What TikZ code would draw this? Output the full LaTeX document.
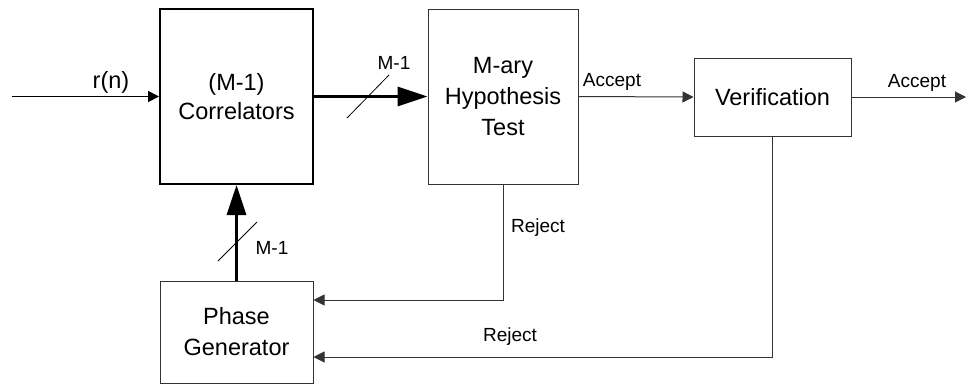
\documentclass[tikz,border=0pt]{standalone}
\usepackage{fontspec}
\setmainfont{Liberation Sans}
\usetikzlibrary{arrows.meta}

\tikzset{
  bigtext/.style={font=\fontsize{23.5}{31}\selectfont},
  smalltext/.style={font=\fontsize{19}{23}\selectfont},
  block/.style={draw=black!80, line width=1pt, rectangle, align=center, inner sep=0pt, bigtext},
  thinlink/.style={draw=black!80, line width=1pt, -{Triangle[length=11pt,width=11pt]}},
  buslink/.style={draw=black, line width=3.2pt, -{Triangle[length=30pt,width=19pt]}},
  busmark/.style={draw=black, line width=0.8pt},
}

\begin{document}
\begin{tikzpicture}[x=1pt,y=-1pt]
  \useasboundingbox (0,0) rectangle (968,386);

  % processing blocks
  \node[block, line width=2pt, draw=black, minimum width=153pt, minimum height=175pt,
        font=\fontsize{23.5}{29.5}\selectfont] (corr) at (236.5,96.5) {(M-1)\\Correlators};
  \node[block, minimum width=150pt, minimum height=175pt] (hyp) at (503,96.5) {M-ary\\Hypothesis\\Test};
  \node[block, minimum width=157pt, minimum height=78pt] (ver) at (772.5,97) {Verification};
  \node[block, minimum width=153pt, minimum height=102pt] (phase) at (236.5,332) {Phase\\Generator};

  % free ends and corners of the feedback paths
  \coordinate (in) at (12,96.5);
  \coordinate (out) at (966,97);
  \coordinate (rj1) at (phase.east |- 0,300);
  \coordinate (rj2) at (phase.east |- 0,357);

  % input signal
  \draw[thinlink, draw=black, line width=1.8pt] (in) -- (corr.west);
  \node[bigtext] (rn) at (111,82) {r(n)};

  % correlator outputs to the hypothesis test
  \draw[buslink] (corr.east) -- (hyp.west);
  \draw[busmark] (347,118) coordinate (s1a) -- (389,75) coordinate (s1b);
  \node[smalltext] (m1a) at (394,63) {M-1};

  % accept paths
  \draw[thinlink] (hyp.east) -- (ver.west);
  \node[smalltext] (acc1) at (612,82) {Accept};
  \draw[thinlink] (ver.east) -- (out);
  \node[smalltext] (acc2) at (917,83) {Accept};

  % reject paths back to the phase generator
  \draw[thinlink] (hyp.south) |- (rj1);
  \node[smalltext] (rej1) at (538,228) {Reject};
  \draw[thinlink] (ver.south) |- (rj2);
  \node[smalltext] (rej2) at (510,337) {Reject};

  % phases fed to the correlators
  \draw[buslink] (phase.north) -- (corr.south);
  \draw[busmark] (218,261) coordinate (s2a) -- (257,222) coordinate (s2b);
  \node[smalltext] (m1b) at (272,248) {M-1};
\end{tikzpicture}
\end{document}
